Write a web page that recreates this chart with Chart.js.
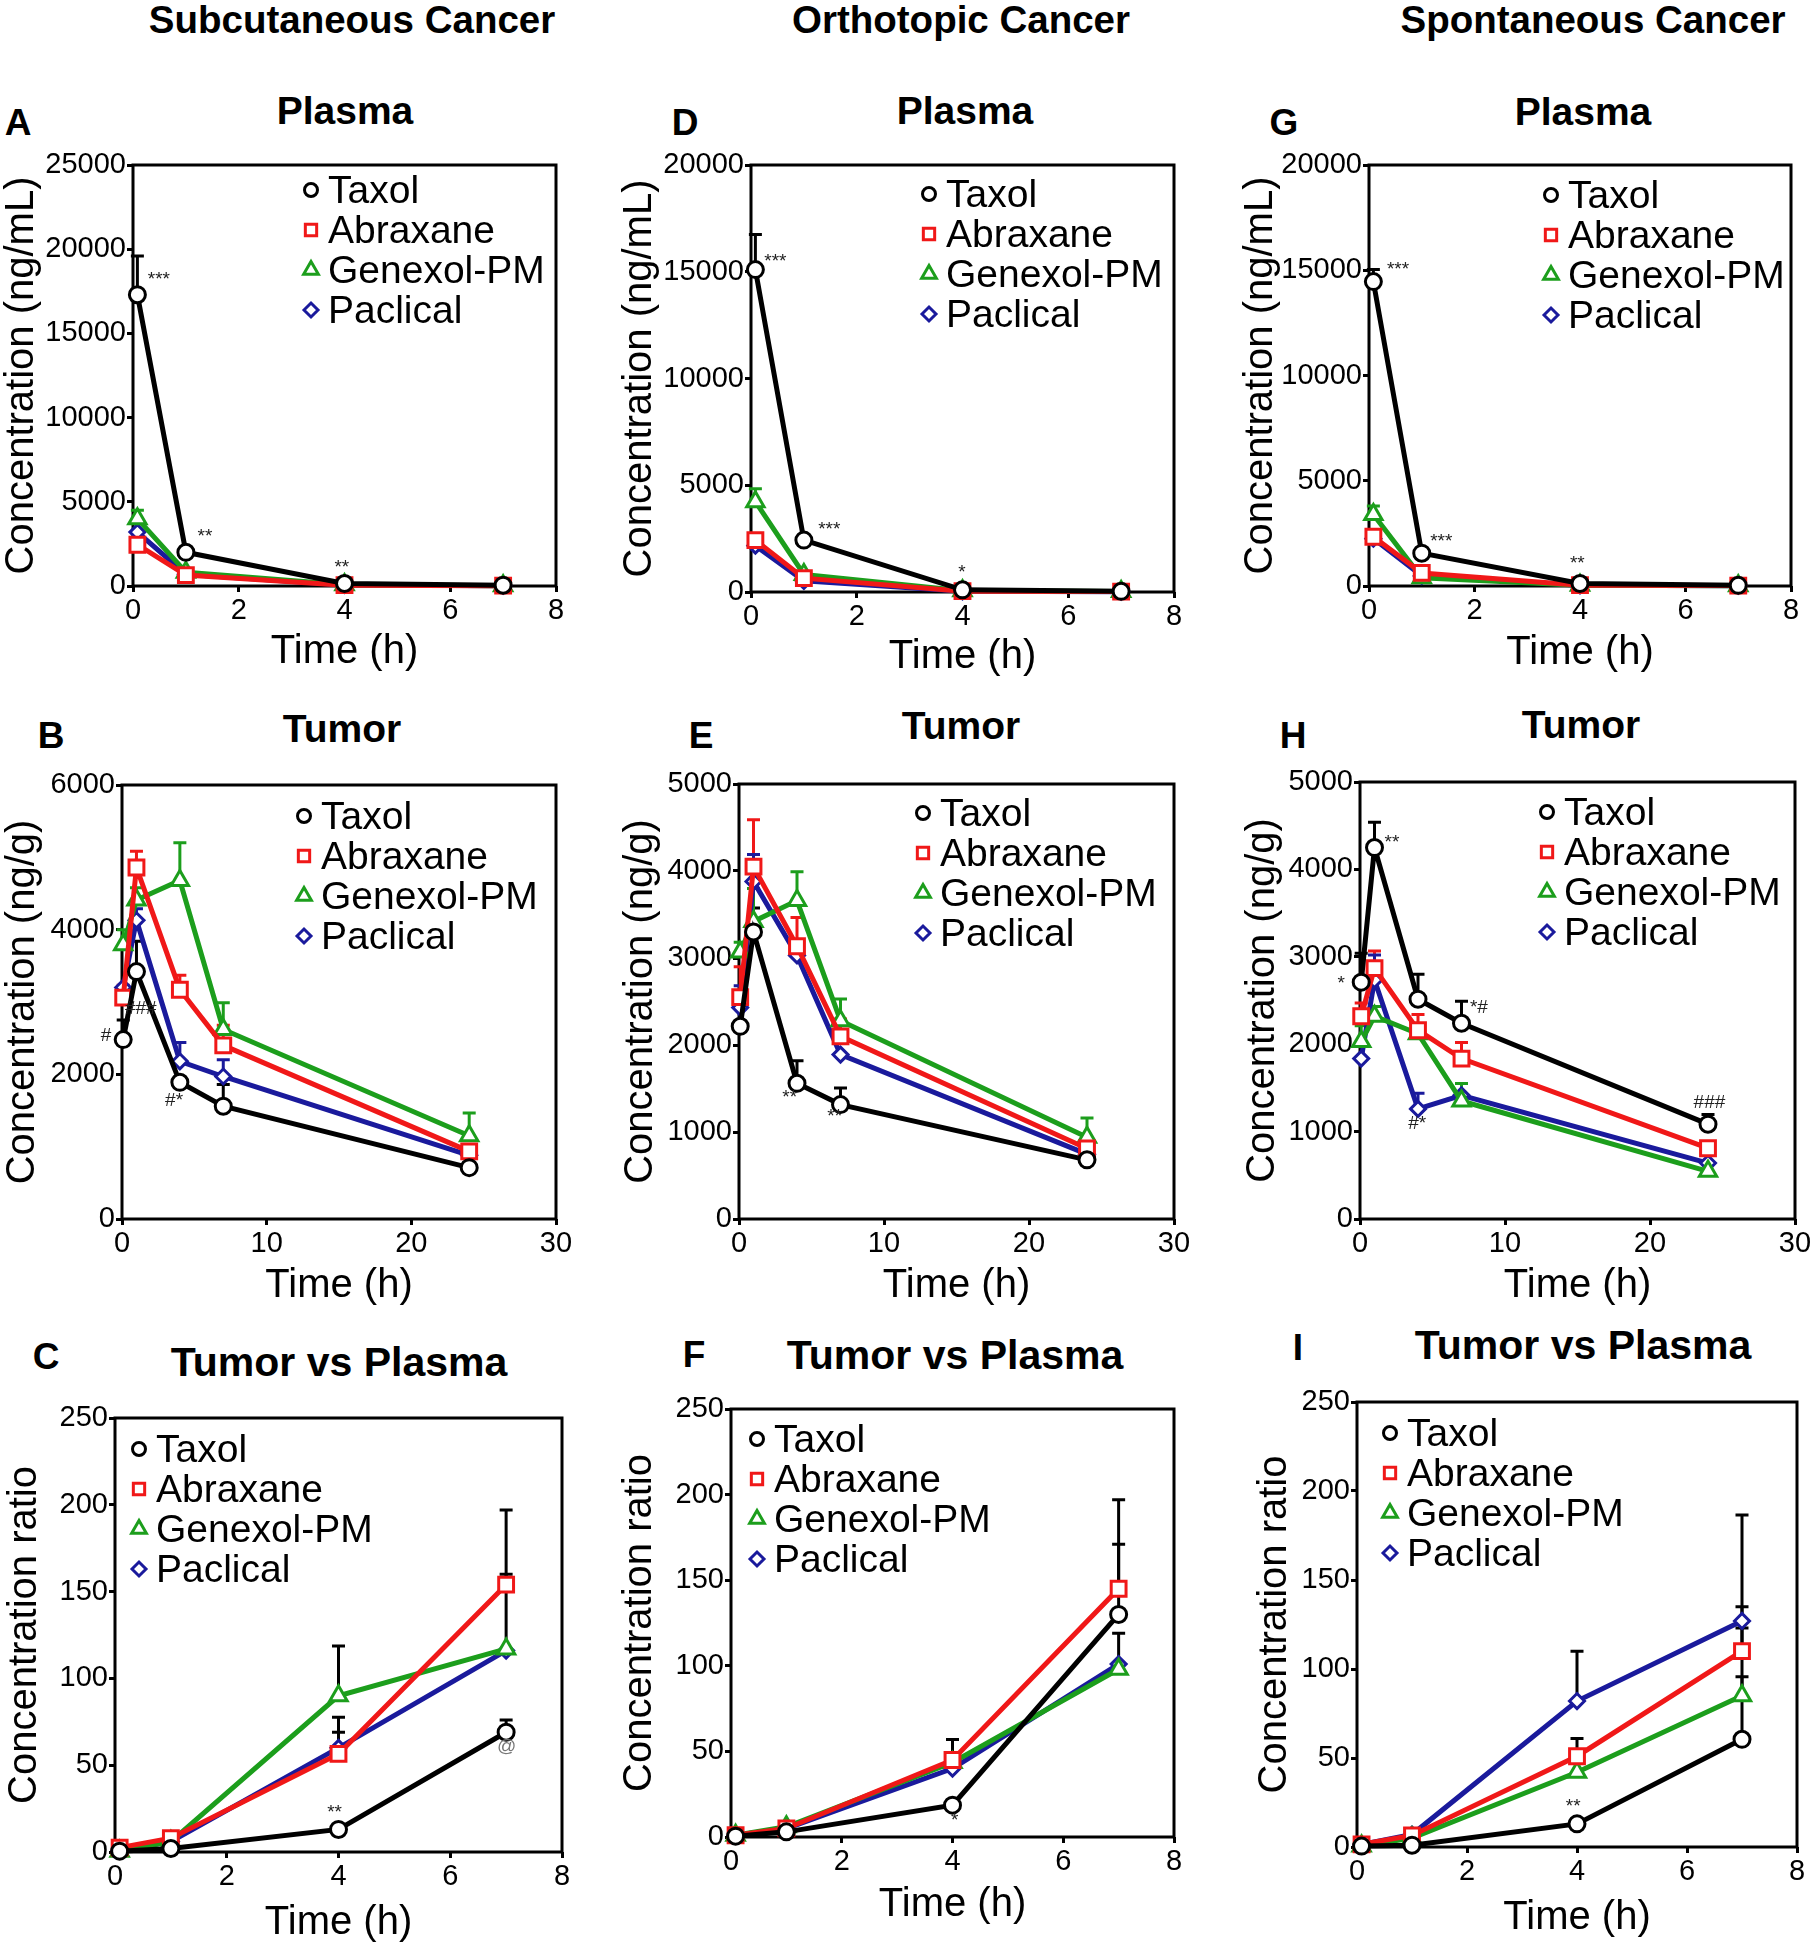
<!DOCTYPE html>
<html>
<head>
<meta charset="utf-8">
<script src="https://cdn.jsdelivr.net/npm/chart.js@4.4.1/dist/chart.umd.min.js"></script>
<style>
  body { margin: 0; background: #fff; width: 1817px; height: 1950px; position: relative; overflow: hidden; font-family: "Liberation Sans", Arial, sans-serif; }
  canvas { position: absolute; }
  .t { position: absolute; transform: translate(-50%, -50%); font-weight: bold; white-space: nowrap; line-height: 1; color: #000; }
</style>
</head>
<body>
<script>
const SERIES = ["Taxol", "Abraxane", "Genexol-PM", "Paclical"]
const T_SHORT = [0.083, 1, 4, 7]
const T_TUMOR = [0.083, 1, 4, 7, 24]

// rows: Taxol, Abraxane, Genexol-PM, Paclical ; *_ERR = top of the (upper) error bar
const A_MEAN = [[17300, 2000, 150, 50], [2450, 650, 50, 20], [4000, 820, 70, 20], [3200, 700, 60, 20]]
const A_ERR = [[19600, null, null, null], [null, null, null, null], [4500, null, null, null], [null, null, null, null]]
const A_MARKS = [["***", 0.49, 18200], ["**", 1.36, 2950], ["**", 3.95, 1100]]

const D_MEAN = [[15100, 2430, 100, 30], [2430, 650, 40, 20], [4230, 820, 60, 20], [2170, 520, 30, 15]]
const D_ERR = [[16750, null, null, null], [null, null, null, null], [4840, null, null, null], [null, null, null, null]]
const D_MARKS = [["***", 0.46, 15490], ["***", 1.48, 2920], ["*", 3.99, 910]]

const G_MEAN = [[14460, 1560, 120, 30], [2340, 620, 40, 20], [3400, 390, 30, 15], [2250, 480, 30, 15]]
const G_ERR = [[15040, null, null, null], [null, null, null, null], [3800, null, null, null], [null, null, null, null]]
const G_MARKS = [["***", 0.55, 15000], ["***", 1.37, 2090], ["**", 3.95, 1060]]

const B_MEAN = [[2480, 3420, 1890, 1560, 710], [3060, 4860, 3170, 2400, 935], [3790, 4410, 4680, 2620, 1150], [3200, 4130, 2180, 1970, 880]]
const B_ERR = [[2750, 3840, 1950, 1860, 780], [3230, 5085, 3370, 2680, 1000], [4000, 4580, 5200, 2990, 1465], [null, 4290, 2440, 2200, null]]
const B_MARKS = [["#", -1.1, 2530], ["###", 1.3, 2900], ["#*", 3.6, 1630]]

const E_MEAN = [[2215, 3300, 1560, 1315, 680], [2550, 4050, 3135, 2100, 810], [3070, 3420, 3660, 2280, 940], [2430, 3880, 3030, 1890, 745]]
const E_ERR = [[2430, 3575, 1820, 1505, 745], [2900, 4590, 3465, 2300, 850], [3180, 3800, 3990, 2530, 1160], [2680, 4190, null, null, null]]
const E_MARKS = [["**", 3.5, 1395], ["**", 6.6, 1175]]

const H_MEAN = [[2710, 4250, 2515, 2240, 1085], [2320, 2870, 2160, 1835, 810], [2030, 2320, 2120, 1350, 545], [1835, 2735, 1260, 1415, 640]]
const H_ERR = [[3040, 4540, 2800, 2490, 1195], [2470, 3065, 2340, 2020, null], [2210, 2430, null, 1550, null], [null, 3020, 1440, null, null]]
const H_MARKS = [["**", 2.2, 4310], ["*", -1.3, 2690], ["*#", 8.2, 2414], ["#*", 3.95, 1086], ["###", 24.1, 1328]]

const C_MEAN = [[0.5, 2, 13, 69], [2.5, 8, 56.5, 154], [0.5, 6, 90, 117], [1, 6, 60, 116]]
const C_ERR = [[null, null, null, 76], [null, null, 77.6, 160], [null, null, 118.6, 197], [null, null, 69, null]]
const C_MARKS = [["**", 3.93, 22.5], ["@", 7.01, 60.7]]

const F_MEAN = [[0.5, 3, 18.6, 130], [1, 5, 45, 145], [1, 6, 43.5, 98], [1, 5, 40, 101]]
const F_ERR = [[null, null, null, 197], [null, null, 57, 171], [null, null, null, null], [null, null, null, 119]]
const F_MARKS = [["*", 4.04, 9.2]]

const I_MEAN = [[0.5, 1, 13, 60.5], [1.5, 6.5, 51, 110], [0.5, 5, 42, 85], [1.5, 7, 82, 127]]
const I_ERR = [[null, null, null, 186.5], [null, null, 61, 123], [null, null, 48.5, 95.6], [null, null, 110, 135]]
const I_MARKS = [["**", 3.93, 22.7]]

const COLORS = ["#000000", "#f01818", "#1c9e1c", "#1a1a9c"]
const STYLES = ["circle", "rect", "triangle", "rectRot"]
const RADII = [8, 10.5, 10, 7.5]
const LEGEND_RADII = [6.5, 8, 8.5, 7]

const Y_TITLES = {
  plasma: "Concentration (ng/mL)",
  tumor: "Concentration (ng/g)",
  ratio: "Concentration ratio",
}

// layout: plot box [left, top, right, bottom] in page px
const PANELS = [
  { kind: "plasma", mean: A_MEAN, err: A_ERR, marks: A_MARKS, yMax: 25000, yStep: 5000, box: [133, 165, 556, 586], yTitleX: 22, xTitleY: 652, legend: [178, 25] },
  { kind: "plasma", mean: D_MEAN, err: D_ERR, marks: D_MARKS, yMax: 20000, yStep: 5000, box: [751, 165, 1174, 592], yTitleX: 640, xTitleY: 657, legend: [178, 29] },
  { kind: "plasma", mean: G_MEAN, err: G_ERR, marks: G_MARKS, yMax: 20000, yStep: 5000, box: [1369, 165, 1791, 586], yTitleX: 1261, xTitleY: 653, legend: [182, 30] },
  { kind: "tumor", mean: B_MEAN, err: B_ERR, marks: B_MARKS, yMax: 6000, yStep: 2000, box: [122, 785, 556, 1219], yTitleX: 23, xTitleY: 1286, legend: [182, 31] },
  { kind: "tumor", mean: E_MEAN, err: E_ERR, marks: E_MARKS, yMax: 5000, yStep: 1000, box: [739, 784, 1174, 1219], yTitleX: 641, xTitleY: 1286, legend: [184, 29] },
  { kind: "tumor", mean: H_MEAN, err: H_ERR, marks: H_MARKS, yMax: 5000, yStep: 1000, box: [1360, 782, 1795, 1219], yTitleX: 1263, xTitleY: 1286, legend: [187, 30] },
  { kind: "ratio", mean: C_MEAN, err: C_ERR, marks: C_MARKS, yMax: 250, yStep: 50, box: [115, 1418, 562, 1852], yTitleX: 25, xTitleY: 1923, legend: [24, 31] },
  { kind: "ratio", mean: F_MEAN, err: F_ERR, marks: F_MARKS, yMax: 250, yStep: 50, box: [731, 1409, 1174, 1837], yTitleX: 640, xTitleY: 1905, legend: [26, 30] },
  { kind: "ratio", mean: I_MEAN, err: I_ERR, marks: I_MARKS, yMax: 250, yStep: 50, box: [1357, 1402, 1797, 1847], yTitleX: 1275, xTitleY: 1918, legend: [33, 31] },
]

const HEADINGS = [
  ["Subcutaneous Cancer", 352, 20, 38.5],
  ["Orthotopic Cancer", 961, 20, 38.5],
  ["Spontaneous Cancer", 1593, 20, 38.5],
  ["A", 18, 122, 37], ["D", 685, 122, 37], ["G", 1284, 122, 37],
  ["B", 51, 735, 37], ["E", 701, 735, 37], ["H", 1293, 735, 37],
  ["C", 46, 1356, 37], ["F", 694, 1354, 37], ["I", 1298, 1347, 37],
  ["Plasma", 345, 110, 39], ["Plasma", 965, 110, 39], ["Plasma", 1583, 111, 39],
  ["Tumor", 342, 728, 39], ["Tumor", 961, 725, 39], ["Tumor", 1581, 724, 39],
  ["Tumor vs Plasma", 339, 1362, 41], ["Tumor vs Plasma", 955, 1355, 41], ["Tumor vs Plasma", 1583, 1345, 41],
]

Chart.defaults.font.family = '"Liberation Sans", Arial, sans-serif'
Chart.defaults.color = "#000"

for (const [text, x, y, size] of HEADINGS) {
  const el = document.createElement("div")
  el.className = "t"
  el.textContent = text
  el.style.left = x + "px"
  el.style.top = y + "px"
  el.style.fontSize = size + "px"
  document.body.appendChild(el)
}

const deco = {
  id: "deco",
  beforeDatasetsDraw: (chart, args, opts) => {
    const { ctx, chartArea: a, scales } = chart
    ctx.save()
    ctx.strokeStyle = "#000"
    ctx.lineWidth = 3
    ctx.strokeRect(a.left, a.top, a.right - a.left, a.bottom - a.top)

    // upper error bars with caps
    chart.data.datasets.forEach((ds, i) => {
      ctx.strokeStyle = opts.errBlack ? "#000" : ds.borderColor
      ctx.lineWidth = 3
      ds.data.forEach((pt, j) => {
        const top = ds.err[j]
        if (top === null) return
        const x = scales.x.getPixelForValue(pt.x)
        const y0 = scales.y.getPixelForValue(pt.y)
        const y1 = scales.y.getPixelForValue(top)
        ctx.beginPath()
        ctx.moveTo(x, y0)
        ctx.lineTo(x, y1)
        ctx.moveTo(x - 6.5, y1)
        ctx.lineTo(x + 6.5, y1)
        ctx.stroke()
      })
    })
    ctx.restore()
  },
  afterDatasetsDraw: (chart, args, opts) => {
    const { ctx, chartArea: a, scales } = chart
    ctx.save()

    // legend inside plot
    const [dx, dy] = opts.legend
    chart.data.datasets.forEach((ds, i) => {
      const x = a.left + dx
      const y = a.top + dy + i * 40
      ctx.fillStyle = "#fff"
      ctx.strokeStyle = ds.borderColor
      ctx.lineWidth = 3
      Chart.helpers.drawPoint(ctx, { pointStyle: STYLES[i], radius: LEGEND_RADII[i], rotation: 0, borderWidth: 3 }, x, y)
      ctx.fillStyle = "#000"
      ctx.font = '39px "Liberation Sans", Arial, sans-serif'
      ctx.textAlign = "left"
      ctx.textBaseline = "middle"
      ctx.fillText(ds.label, x + 17, y + 2)
    })

    // significance marks
    ctx.font = '19px "Liberation Sans", Arial, sans-serif'
    ctx.textAlign = "center"
    ctx.textBaseline = "middle"
    for (const [text, mx, my] of opts.marks) {
      ctx.fillStyle = text === "@" ? "#777" : "#222"
      ctx.fillText(text, scales.x.getPixelForValue(mx), scales.y.getPixelForValue(my))
    }
    ctx.restore()
  },
}

function makePanel(p) {
  const [L, T, R, B] = p.box
  const left = p.yTitleX - 24
  const top = T - 25
  const right = R + 30
  const bottom = p.xTitleY + 24
  const cv = document.createElement("canvas")
  cv.width = right - left
  cv.height = bottom - top
  cv.style.left = left + "px"
  cv.style.top = top + "px"
  cv.style.width = (right - left) + "px"
  cv.style.height = (bottom - top) + "px"
  document.body.appendChild(cv)

  const times = p.kind === "tumor" ? T_TUMOR : T_SHORT
  const datasets = SERIES.map((name, i) => ({
    label: name,
    data: times.map((t, j) => ({ x: t, y: p.mean[i][j] })),
    err: p.err[i],
    borderColor: COLORS[i],
    backgroundColor: "#fff",
    borderWidth: 5,
    tension: 0,
    pointStyle: STYLES[i],
    pointRadius: RADII[i],
    pointBorderWidth: 3,
    pointBackgroundColor: "#fff",
    pointBorderColor: COLORS[i],
    clip: false,
  }))

  const tickFont = { size: 29 }
  const titleFont = { size: 40 }

  new Chart(cv, {
    type: "line",
    data: { datasets },
    plugins: [deco],
    options: {
      responsive: false,
      animation: false,
      devicePixelRatio: 1,
      events: [],
      layout: { padding: { left: 0, top: 25, right: 30, bottom: 0 } },
      plugins: {
        legend: { display: false },
        tooltip: { enabled: false },
        deco: { legend: p.legend, marks: p.marks, errBlack: p.kind === "ratio" },
      },
      scales: {
        x: {
          type: "linear",
          min: 0,
          max: p.kind === "tumor" ? 30 : 8,
          ticks: { stepSize: p.kind === "tumor" ? 10 : 2, font: tickFont, color: "#000", padding: 2, maxRotation: 0, autoSkip: false },
          grid: { drawOnChartArea: false, drawTicks: true, tickLength: 6, tickWidth: 3, tickColor: "#000" },
          border: { display: false },
          title: { display: true, text: "Time (h)", font: titleFont, color: "#000", padding: 0 },
          afterFit: (s) => { s.height = bottom - B },
        },
        y: {
          min: 0,
          max: p.yMax,
          ticks: { stepSize: p.yStep, font: tickFont, color: "#000", padding: 1, callback: (v) => String(v) },
          grid: { drawOnChartArea: false, drawTicks: true, tickLength: 6, tickWidth: 3, tickColor: "#000" },
          border: { display: false },
          title: { display: true, text: Y_TITLES[p.kind], font: titleFont, color: "#000", padding: 0 },
          afterFit: (s) => { s.width = L - left },
        },
      },
    },
  })
}

PANELS.forEach(makePanel)
</script>
</body>
</html>
